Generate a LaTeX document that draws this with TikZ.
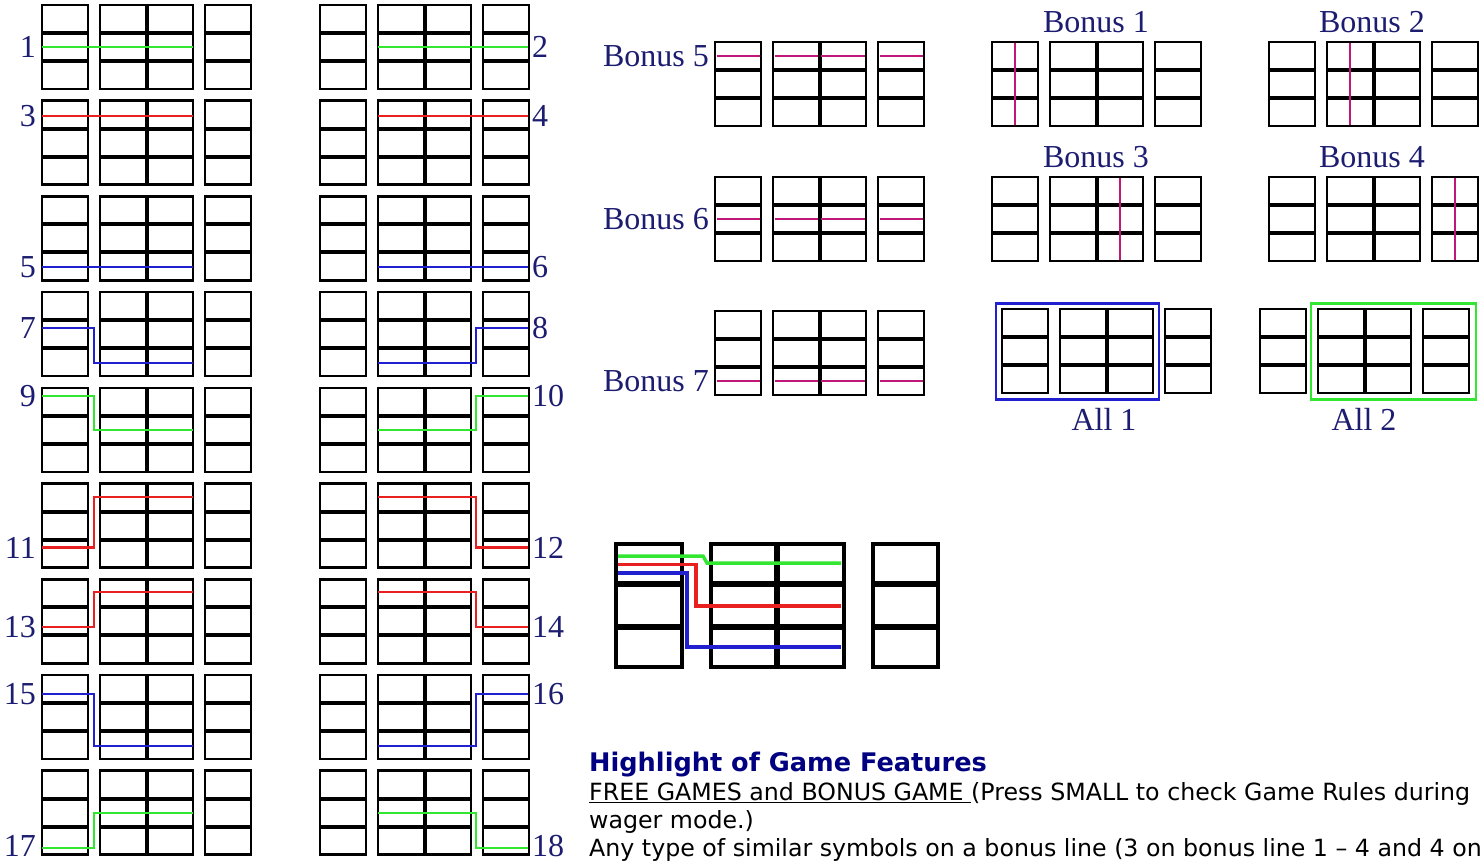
\documentclass[tikz,border=0pt]{standalone}
\usepackage{fontspec}
\setmainfont{Liberation Serif}
\newfontfamily\versans{DejaVu Sans}
\definecolor{navy}{RGB}{28,28,112}
\definecolor{titleblue}{RGB}{0,0,128}
\definecolor{pgreen}{RGB}{50,230,50}
\definecolor{pred}{RGB}{232,32,32}
\definecolor{pblue}{RGB}{32,32,208}
\definecolor{pmag}{RGB}{192,24,120}
\tikzset{
  reelbox/.style={draw=black, line width=2.6pt},
  rowline/.style={draw=black, line width=4pt},
  payline/.style={line width=2.2pt, line join=miter},
  numlab/.style={font=\fontsize{32}{36}\selectfont, text=navy, inner sep=0pt},
  bonuslab/.style={font=\fontsize{32}{36}\selectfont, text=navy, inner sep=0pt},
  bonusline/.style={draw=pmag, line width=2pt},
  bigreel/.style={draw=black, line width=3.5pt},
  bigrow/.style={draw=black, line width=6pt},
  bigpay/.style={line width=3.5pt, line join=miter},
  bodytext/.style={anchor=base west, inner sep=0pt, font=\versans\fontsize{23.7}{28}\selectfont},
}
\newcommand{\reelgrid}[2]{%
  \begin{scope}[shift={(#1,#2)}]
  \foreach \a/\b in {0/46,58/151,163/209}{
    \draw[rowline] (\a,28) -- (\b,28);
    \draw[rowline] (\a,56) -- (\b,56);
    \draw[reelbox] (\a,0) rectangle (\b,84);
  }
  \draw[rowline] (104.5,0) -- (104.5,84);
  \end{scope}}
% left payline: colour, top, start offset, end offset
\newcommand{\payL}[4]{\draw[payline,draw=#1] (42,#2+#3) -- (94,#2+#3) -- (94,#2+#4) -- (193,#2+#4);}
\newcommand{\payR}[4]{\draw[payline,draw=#1] (378,#2+#4) -- (476,#2+#4) -- (476,#2+#3) -- (528,#2+#3);}
\newcommand{\strL}[3]{\draw[payline,draw=#1] (42,#2+#3) -- (193,#2+#3);}
\newcommand{\strR}[3]{\draw[payline,draw=#1] (378,#2+#3) -- (528,#2+#3);}
% bonus horizontal line within each reel
\newcommand{\bonusH}[3]{%
  \foreach \a/\b in {0/46,58/104.5,104.5/151,163/209}{
    \draw[bonusline] (#1+\a+1.5,#2+#3) -- (#1+\b-1.5,#2+#3);}}
\newcommand{\bonusV}[3]{\draw[bonusline] (#1+#3,#2+1.3) -- (#1+#3,#2+82.7);}
\begin{document}
\begin{tikzpicture}[x=1pt,y=-1pt]
\useasboundingbox (0,0) rectangle (1484,861);
\fill[white] (0,0) rectangle (1484,861);

% ---- left block of 18 paylines ----
\foreach \t in {5,100.7,196.4,292.1,387.8,483.5,579.2,674.9,770.6}{
  \reelgrid{42}{\t}
  \reelgrid{320}{\t}
}
\strL{pgreen}{5}{42}      \strR{pgreen}{5}{42}
\strL{pred}{100.7}{15}    \strR{pred}{100.7}{15}
\strL{pblue}{196.4}{71}   \strR{pblue}{196.4}{71}
\payL{pblue}{292.1}{36}{71}   \payR{pblue}{292.1}{36}{71}
\payL{pgreen}{387.8}{8}{42}   \payR{pgreen}{387.8}{8}{42}
\payL{pred}{483.5}{64}{13.5}  \payR{pred}{483.5}{64}{13.5}
\payL{pred}{579.2}{47.5}{13}  \payR{pred}{579.2}{47.5}{13}
\payL{pblue}{674.9}{19}{71}   \payR{pblue}{674.9}{19}{71}
\payL{pgreen}{770.6}{77}{42}  \payR{pgreen}{770.6}{77}{42}

\node[numlab, anchor=east] (n1)  at (36,5+42) {1};
\node[numlab, anchor=west] (n2)  at (532,5+42) {2};
\node[numlab, anchor=east] (n3)  at (36,100.7+15) {3};
\node[numlab, anchor=west] (n4)  at (532,100.7+15) {4};
\node[numlab, anchor=east] (n5)  at (36,196.4+71) {5};
\node[numlab, anchor=west] (n6)  at (532,196.4+71) {6};
\node[numlab, anchor=east] (n7)  at (36,292.1+36) {7};
\node[numlab, anchor=west] (n8)  at (532,292.1+36) {8};
\node[numlab, anchor=east] (n9)  at (36,387.8+8) {9};
\node[numlab, anchor=west] (n10) at (532,387.8+8) {10};
\node[numlab, anchor=east] (n11) at (36,483.5+64) {11};
\node[numlab, anchor=west] (n12) at (532,483.5+64) {12};
\node[numlab, anchor=east] (n13) at (36,579.2+47.5) {13};
\node[numlab, anchor=west] (n14) at (532,579.2+47.5) {14};
\node[numlab, anchor=east] (n15) at (36,674.9+19) {15};
\node[numlab, anchor=west] (n16) at (532,674.9+19) {16};
\node[numlab, anchor=east] (n17) at (36,846) {17};
\node[numlab, anchor=west] (n18) at (532,846) {18};

% ---- bonus lines ----
\reelgrid{715}{42}   \bonusH{715}{42}{14}
\reelgrid{715}{177}  \bonusH{715}{177}{42}
\reelgrid{715}{311}  \bonusH{715}{311}{70}
\node[bonuslab, anchor=east] (b5) at (709,56) {Bonus 5};
\node[bonuslab, anchor=east] (b6) at (709,219) {Bonus 6};
\node[bonuslab, anchor=east] (b7) at (709,381) {Bonus 7};

\reelgrid{992}{42}   \bonusV{992}{42}{23}
\reelgrid{1269}{42}  \bonusV{1269}{42}{81}
\reelgrid{992}{177}  \bonusV{992}{177}{128}
\reelgrid{1269}{177} \bonusV{1269}{177}{186}
\node[bonuslab] (b1) at (1096,22) {Bonus 1};
\node[bonuslab] (b2) at (1372,22) {Bonus 2};
\node[bonuslab] (b3) at (1096,157) {Bonus 3};
\node[bonuslab] (b4) at (1372,157) {Bonus 4};

\reelgrid{1002}{309}
\draw[draw=pblue, line width=2.5pt] (996,303.5) rectangle (1159,399.5);
\reelgrid{1260}{309}
\draw[draw=pgreen, line width=2.5pt] (1311,303.5) rectangle (1476,399.5);
\node[bonuslab] (all1) at (1104,419) {All 1};
\node[bonuslab] (all2) at (1364,419) {All 2};

% ---- enlarged example ----
\foreach \a/\b in {616/682,711/844,873/938}{
  \draw[bigrow] (\a,584) -- (\b,584);
  \draw[bigrow] (\a,627) -- (\b,627);
  \draw[bigreel] (\a,544) rectangle (\b,667);
}
\draw[bigrow] (777,544) -- (777,667);
\draw[bigpay,draw=pgreen] (618,556) -- (703,556) -- (707,563) -- (841,563);
\draw[bigpay,draw=pred]   (618,564.5) -- (696,564.5) -- (696,606) -- (841,606);
\draw[bigpay,draw=pblue]  (618,573) -- (687,573) -- (687,647) -- (841,647);

% ---- text ----
\node[anchor=base west, inner sep=0pt, font=\versans\bfseries\fontsize{25.6}{30}\selectfont, text=titleblue] (title) at (589,771) {Highlight of Game Features};
\node[bodytext] (t1) at (589,800) {\underline{FREE GAMES and BONUS GAME\ }(Press SMALL to check Game Rules during};
\node[bodytext] (t2) at (589,828) {wager mode.)};
\node[bodytext] (t3) at (589,856) {Any type of similar symbols on a bonus line (3 on bonus line 1 – 4 and 4 on};
\end{tikzpicture}
\end{document}
